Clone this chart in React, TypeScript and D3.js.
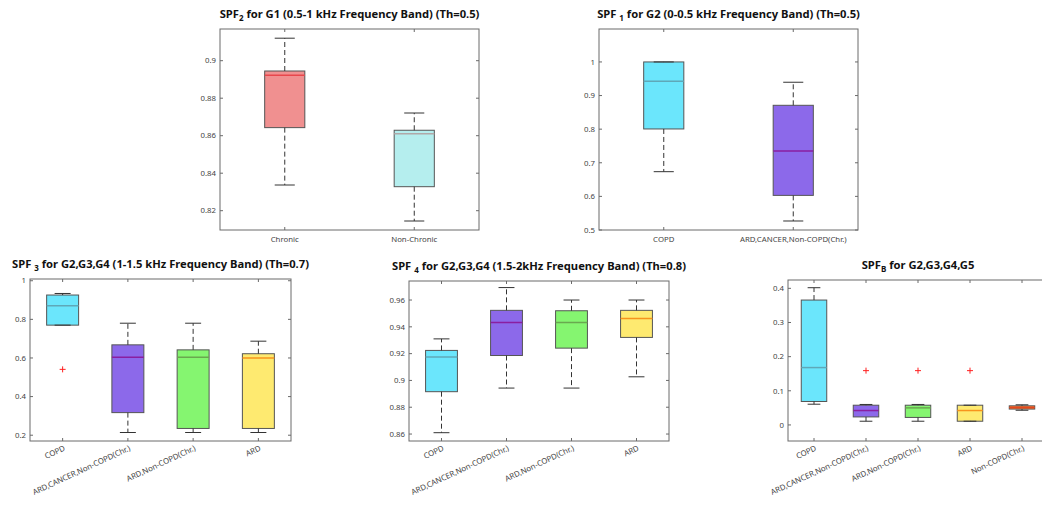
import React from "react";
import * as d3 from "d3";

// box stats per group: [lower whisker, q1, median, q3, upper whisker]
const spf2Groups = ["Chronic", "Non-Chronic"];
const spf2Stats = [
  [0.8337, 0.8643, 0.8922, 0.8945, 0.912],
  [0.8145, 0.8328, 0.8611, 0.8629, 0.8721],
];
const spf2Ticks = [0.82, 0.84, 0.86, 0.88, 0.9];

const spf1Groups = ["COPD", "ARD,CANCER,Non-COPD(Chr.)"];
const spf1Stats = [
  [0.6735, 0.8006, 0.9426, 1.0, 1.0],
  [0.5268, 0.603, 0.735, 0.871, 0.9396],
];
const spf1Ticks = [0.5, 0.6, 0.7, 0.8, 0.9, 1];

const spf3Groups = ["COPD", "ARD,CANCER,Non-COPD(Chr.)", "ARD,Non-COPD(Chr.)", "ARD"];
const spf3Stats = [
  [0.77, 0.77, 0.87, 0.926, 0.934],
  [0.214, 0.317, 0.604, 0.668, 0.78],
  [0.214, 0.235, 0.604, 0.642, 0.78],
  [0.214, 0.235, 0.6, 0.622, 0.687],
];
const spf3Outliers = [[0.541], [], [], []];
const spf3Ticks = [0.2, 0.4, 0.6, 0.8, 1];

const spf4Groups = ["COPD", "ARD,CANCER,Non-COPD(Chr.)", "ARD,Non-COPD(Chr.)", "ARD"];
const spf4Stats = [
  [0.861, 0.8916, 0.9174, 0.9224, 0.931],
  [0.8943, 0.9186, 0.9433, 0.9523, 0.9693],
  [0.8943, 0.9241, 0.9433, 0.952, 0.96],
  [0.9027, 0.9321, 0.9463, 0.9523, 0.96],
];
const spf4Ticks = [0.86, 0.88, 0.9, 0.92, 0.94, 0.96];

const spfBGroups = ["COPD", "ARD,CANCER,Non-COPD(Chr.)", "ARD,Non-COPD(Chr.)", "ARD", "Non-COPD(Chr.)"];
const spfBStats = [
  [0.0607, 0.0687, 0.168, 0.3657, 0.4018],
  [0.0109, 0.0235, 0.0422, 0.0578, 0.06],
  [0.0109, 0.022, 0.05, 0.0578, 0.06],
  [0.0109, 0.0109, 0.0422, 0.0578, 0.0578],
  [0.043, 0.0465, 0.051, 0.056, 0.059],
];
const spfBOutliers = [[], [0.159], [0.159], [0.159], []];
const spfBTicks = [0, 0.1, 0.2, 0.3, 0.4];

const CYAN = "#6be6fc";
const PURPLE = "#8c69ea";
const GREEN = "#85f570";
const YELLOW = "#feea70";

const FONT = "'Noto Sans', 'Open Sans', sans-serif";

type PanelProps = {
  rect: [number, number, number, number];
  domain: [number, number];
  ticks: number[];
  groups: string[];
  stats: number[][];
  outliers?: number[][];
  fills: string[];
  medians: string[];
  boxW: number;
  rotate: boolean;
  title: React.ReactNode;
};

function Panel({ rect, domain, ticks, groups, stats, outliers, fills, medians, boxW, rotate, title }: PanelProps) {
  const [left, top, w, h] = rect;
  const x = d3.scaleLinear().domain([0.5, groups.length + 0.5]).range([left, left + w]);
  const y = d3.scaleLinear().domain(domain).range([top + h, top]);
  const bottom = top + h;
  const right = left + w;
  const tl = 3;
  const fmt = (v: number) => d3.format("~g")(v);

  return (
    <g>
      <text x={left + w / 2} y={top - 11} textAnchor="middle" fontFamily={FONT} fontWeight="bold" fontSize={11.2} fill="#111">
        {title}
      </text>
      {groups.map((g, i) => {
        const [lo, q1, med, q3, hi] = stats[i];
        const cx = x(i + 1);
        const half = ((x(1 + boxW) - x(1)) as number) / 2;
        const cap = half / 2;
        return (
          <g key={g}>
            <rect x={cx - half} y={y(q3)} width={half * 2} height={Math.max(0.5, y(q1) - y(q3))} fill={fills[i]} stroke="#555" strokeWidth={1} />
            <line x1={cx} x2={cx} y1={y(q3)} y2={y(hi)} stroke="#333" strokeDasharray="5,3" />
            <line x1={cx} x2={cx} y1={y(q1)} y2={y(lo)} stroke="#333" strokeDasharray="5,3" />
            <line x1={cx - cap} x2={cx + cap} y1={y(hi)} y2={y(hi)} stroke="#333" />
            <line x1={cx - cap} x2={cx + cap} y1={y(lo)} y2={y(lo)} stroke="#333" />
            <line x1={cx - half} x2={cx + half} y1={y(med)} y2={y(med)} stroke={medians[i]} strokeWidth={1.5} />
            {(outliers?.[i] ?? []).map((o, k) => (
              <path key={k} d={`M${cx - 3},${y(o)}h6M${cx},${y(o) - 3}v6`} stroke="#ff2020" strokeWidth={1} />
            ))}
          </g>
        );
      })}
      <rect x={left} y={top} width={w} height={h} fill="none" stroke="#6a6a6a" strokeWidth={1} />
      {ticks.map((t) => (
        <g key={t}>
          <line x1={left} x2={left + tl} y1={y(t)} y2={y(t)} stroke="#6a6a6a" />
          <line x1={right} x2={right - tl} y1={y(t)} y2={y(t)} stroke="#6a6a6a" />
          <text x={left - 4} y={y(t)} dy="0.35em" textAnchor="end" fontFamily={FONT} fontSize={7.8} fill="#444">
            {fmt(t)}
          </text>
        </g>
      ))}
      {groups.map((g, i) => {
        const cx = x(i + 1);
        return (
          <g key={"t" + g}>
            <line x1={cx} x2={cx} y1={bottom} y2={bottom - tl} stroke="#6a6a6a" />
            <line x1={cx} x2={cx} y1={top} y2={top + tl} stroke="#6a6a6a" />
            {rotate ? (
              <text transform={`translate(${cx + 3},${bottom + 9}) rotate(-25)`} textAnchor="end" fontFamily={FONT} fontSize={7.8} fill="#444">
                {g}
              </text>
            ) : (
              <text x={cx} y={bottom + 12} textAnchor="middle" fontFamily={FONT} fontSize={7.8} fill="#444">
                {g}
              </text>
            )}
          </g>
        );
      })}
    </g>
  );
}

function Sub({ s }: { s: string }) {
  return (
    <>
      <tspan dy="3" fontSize={8}>{s}</tspan>
      <tspan dy="-3"> </tspan>
    </>
  );
}

export default function App() {
  return (
    <svg width={1042} height={506} style={{ position: "absolute", left: 0, top: 0, background: "#fff" }}>
      <Panel
        rect={[220, 29, 259, 201]}
        domain={[0.8097, 0.9169]}
        ticks={spf2Ticks}
        groups={spf2Groups}
        stats={spf2Stats}
        fills={["#f09090", "#b5eeee"]}
        medians={["#e8474c", "#b0a8a8"]}
        boxW={0.31}
        rotate={false}
        title={<>SPF<Sub s="2" />for G1 (0.5-1 kHz Frequency Band) (Th=0.5)</>}
      />
      <Panel
        rect={[599, 29, 259, 201]}
        domain={[0.5, 1.098]}
        ticks={spf1Ticks}
        groups={spf1Groups}
        stats={spf1Stats}
        fills={[CYAN, PURPLE]}
        medians={["#5fa8b8", "#8a1fa0"]}
        boxW={0.31}
        rotate={false}
        title={<>SPF <Sub s="1" />for G2 (0-0.5 kHz Frequency Band) (Th=0.5)</>}
      />
      <Panel
        rect={[30, 279, 261, 162]}
        domain={[0.17, 1.009]}
        ticks={spf3Ticks}
        groups={spf3Groups}
        stats={spf3Stats}
        outliers={spf3Outliers}
        fills={[CYAN, PURPLE, GREEN, YELLOW]}
        medians={["#5fa8b8", "#8a1fa0", "#6aa84f", "#f7941d"]}
        boxW={0.49}
        rotate={true}
        title={<>SPF <Sub s="3" />for G2,G3,G4 (1-1.5 kHz Frequency Band) (Th=0.7)</>}
      />
      <Panel
        rect={[409, 281, 260, 160]}
        domain={[0.8548, 0.9742]}
        ticks={spf4Ticks}
        groups={spf4Groups}
        stats={spf4Stats}
        fills={[CYAN, PURPLE, GREEN, YELLOW]}
        medians={["#5fa8b8", "#8a1fa0", "#6aa84f", "#f7941d"]}
        boxW={0.49}
        rotate={true}
        title={<>SPF <Sub s="4" />for G2,G3,G4 (1.5-2kHz Frequency Band) (Th=0.8)</>}
      />
      <Panel
        rect={[788, 280, 260, 161]}
        domain={[-0.047, 0.4244]}
        ticks={spfBTicks}
        groups={spfBGroups}
        stats={spfBStats}
        outliers={spfBOutliers}
        fills={[CYAN, PURPLE, GREEN, YELLOW, "#ff7a30"]}
        medians={["#5fa8b8", "#8a1fa0", "#6aa84f", "#f7941d", "#e8471c"]}
        boxW={0.49}
        rotate={true}
        title={<>SPF<Sub s="B" />for G2,G3,G4,G5</>}
      />
    </svg>
  );
}
